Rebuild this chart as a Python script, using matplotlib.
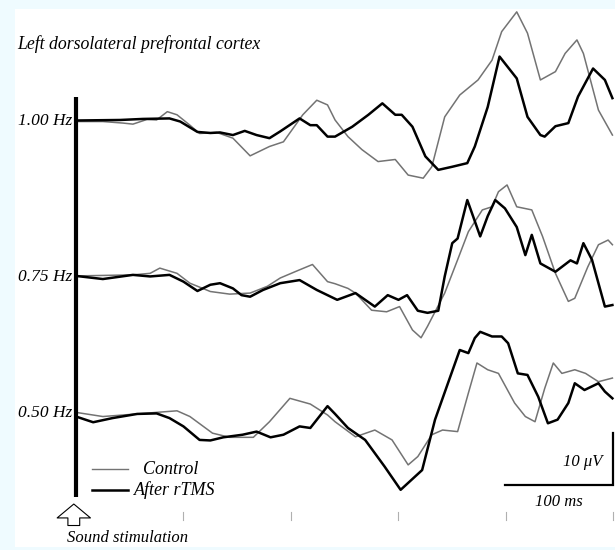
#ERP traces, left DLPFC, control vs after rTMS

import matplotlib
matplotlib.use('Agg')
import matplotlib.pyplot as plt
import matplotlib as mpl


OUT_PATH = 'out.png'

mpl.rcParams.update({
    'font.family': 'Liberation Serif',
    'font.style': 'italic',
    'font.size': 12.5,
    'lines.solid_joinstyle': 'round',
})

ROWS = ['1.00 Hz', '0.75 Hz', '0.50 Hz']
ROW_OFFSET = [56.15, 26.15, 0.0]   # uV, where each trace pair sits

#time in ms after sound onset, amplitude in uV
T_100_AFTER = [0, 41, 62, 87, 97, 113, 125, 134, 146, 157, 168, 180, 190, 208, 218, 224,
               234, 241, 257, 272, 285, 297, 303, 313, 325, 337, 350, 364, 371, 383, 394,
               410, 420, 432, 436, 446, 458, 467, 481, 492, 499]
V_100_AFTER = [0.1, 0.2, 0.4, 0.5, -0.1, -2.1, -2.3, -2.2, -2.7, -1.9, -2.7, -3.3, -2.0, 0.5,
               -0.8, -0.8, -3.0, -3.0, -1.1, 1.2, 3.4, 1.2, 1.2, -1.1, -6.8, -9.4, -8.8, -8.1,
               -4.9, 2.7, 12.4, 8.2, 0.8, -2.7, -3.0, -1.0, -0.4, 4.7, 10.1, 7.9, 4.4]
T_100_CTRL = [0, 25, 44, 53, 66, 75, 85, 94, 106, 115, 131, 146, 162, 180, 193, 211, 224,
              234, 241, 253, 266, 281, 297, 309, 323, 331, 343, 357, 374, 387, 396, 410,
              420, 432, 446, 455, 466, 472, 486, 499]
V_100_CTRL = [-0.1, -0.1, -0.4, -0.6, 0.3, 0.2, 1.8, 1.2, -0.8, -2.4, -2.2, -3.3, -6.7, -4.9,
              -4.0, 1.2, 4.0, 3.1, 0.2, -3.0, -5.5, -7.8, -7.4, -10.4, -11.0, -8.8, 0.8, 5.0,
              7.9, 11.7, 17.2, 21.0, 16.9, 7.9, 9.5, 13.0, 15.6, 13.0, 2.1, -2.7]

T_075_AFTER = [0, 25, 53, 69, 87, 100, 113, 125, 134, 146, 154, 162, 174, 190, 208, 224,
               243, 260, 278, 290, 300, 308, 318, 327, 337, 343, 350, 355, 364, 369, 376,
               383, 390, 399, 410, 418, 424, 432, 446, 460, 466, 472, 480, 492, 499]
V_075_AFTER = [0.2, -0.4, 0.4, 0.1, 0.4, -0.9, -2.7, -1.5, -1.2, -2.2, -3.5, -3.8, -2.5, -1.2,
               -0.6, -2.5, -4.4, -3.1, -5.7, -3.5, -4.4, -3.5, -6.5, -6.9, -6.5, 0.1, 6.5, 7.4,
               14.8, 11.9, 7.8, 11.7, 14.8, 13.2, 9.6, 4.2, 8.1, 2.6, 1.0, 3.2, 2.6, 6.5, 3.3,
               -5.7, -5.4]
T_075_CTRL = [0, 53, 69, 78, 94, 106, 125, 143, 162, 178, 190, 206, 220, 234, 241, 253, 260,
              275, 289, 301, 313, 321, 327, 343, 355, 365, 378, 387, 393, 401, 410, 424, 434,
              446, 458, 464, 476, 486, 495, 499]
V_075_CTRL = [0.2, 0.4, 0.7, 1.7, 0.7, -1.2, -2.8, -3.3, -3.1, -1.8, -0.2, 1.2, 2.4, -0.9,
              -1.3, -2.2, -3.1, -6.4, -6.7, -5.7, -10.2, -11.7, -9.5, -3.1, 3.3, 8.7, 12.9,
              13.5, 16.4, 17.7, 13.5, 12.9, 7.8, 0.7, -4.7, -4.1, 1.9, 6.2, 7.1, 6.2]

T_050_AFTER = [0, 16, 34, 57, 75, 87, 100, 115, 125, 137, 155, 168, 181, 193, 208, 218, 234,
               241, 253, 269, 287, 302, 322, 334, 346, 357, 365, 371, 376, 387, 396, 402,
               411, 420, 430, 439, 448, 458, 464, 473, 486, 492, 499]
V_050_AFTER = [-0.7, -1.8, -1.0, -0.2, -0.1, -1.0, -2.6, -5.2, -5.3, -4.7, -4.2, -3.6, -4.7,
               -4.2, -2.6, -2.9, 1.3, -0.2, -2.9, -5.2, -10.3, -14.8, -11.0, -1.3, 5.7, 12.1,
               11.5, 14.4, 15.6, 14.7, 14.7, 13.4, 7.6, 7.3, 3.1, -2.0, -1.3, 1.9, 5.7, 4.4,
               5.7, 4.1, 2.8]
T_050_CTRL = [0, 25, 57, 75, 94, 106, 127, 143, 165, 180, 199, 218, 234, 241, 260, 278, 294,
              309, 318, 331, 341, 355, 365, 373, 383, 393, 408, 418, 427, 436, 444, 452, 464,
              474, 486, 499]
V_050_CTRL = [0.1, -0.7, -0.2, 0.1, 0.4, -0.7, -3.9, -4.7, -4.7, -1.7, 2.8, 1.7, -0.4, -1.7,
              -4.6, -3.3, -5.2, -10.0, -8.4, -4.2, -3.3, -3.6, 3.8, 9.6, 8.3, 7.6, 1.9, -0.7,
              -1.7, 4.7, 9.6, 7.6, 8.3, 7.6, 6.0, 6.7]

TRACES = [
    ((T_100_CTRL, V_100_CTRL), (T_100_AFTER, V_100_AFTER)),
    ((T_075_CTRL, V_075_CTRL), (T_075_AFTER, V_075_AFTER)),
    ((T_050_CTRL, V_050_CTRL), (T_050_AFTER, V_050_AFTER)),
]

TICKS_MS = [100, 200, 300, 400, 500]

BG = '#effbff'
GREY = '#737373'


def main():
    fig = plt.figure(figsize=(6.15, 5.5), dpi=100, facecolor=BG)
    # white panel, data scale: 1.075 px per ms, 5.2 px per uV
    ax = fig.add_axes([15 / 615, 3 / 550, 600 / 615, 538 / 550])
    ax.set_facecolor('white')
    ax.set_xlim(-56.7, 501.4)
    ax.set_ylim(-25.8, 77.7)
    ax.axis('off')
    ax.add_patch(plt.Rectangle((0, 0), 1, 1, transform=ax.transAxes,
                               facecolor='white', edgecolor='none', zorder=0))

    for label, off, ((tc, vc), (ta, va)) in zip(ROWS, ROW_OFFSET, TRACES):
        ax.plot(tc, [v + off for v in vc], color=GREY, lw=1.1, zorder=2)
        ax.plot(ta, [v + off for v in va], color='black', lw=1.8, zorder=3)
        ax.text(-3, off, label, ha='right', va='center', fontsize=12.5)

    # stimulus marker bar
    ax.plot([0, 0], [-16.2, 60.8], color='black', lw=3.0, solid_capstyle='butt')

    for t in TICKS_MS:
        ax.plot([t, t], [-19.0, -20.6], color='#b0b0b0', lw=0.8)

    ax.annotate('', xy=(-2, -17.0), xytext=(-2, -22.2),
                arrowprops=dict(arrowstyle='simple,head_width=2.4,head_length=1.0,tail_width=0.85',
                                fc='white', ec='black', lw=0.8, mutation_scale=10))
    ax.text(-8, -24.0, 'Sound stimulation', ha='left', va='center', fontsize=12)

    ax.text(-55, 71.0, 'Left dorsolateral prefrontal cortex', ha='left', va='center',
            fontsize=12.8)

    # legend
    ax.plot([15, 48], [-10.8, -10.8], color=GREY, lw=1.0)
    ax.plot([15, 48], [-14.8, -14.8], color='black', lw=1.8)
    ax.text(62, -10.8, 'Control', ha='left', va='center', fontsize=13)
    ax.text(54, -14.8, 'After rTMS', ha='left', va='center', fontsize=13)

    # scale bar: 100 ms x 10 uV
    x_end, y_bot = 499.5, -13.85
    ax.plot([x_end - 100, x_end, x_end], [y_bot, y_bot, y_bot + 10],
            color='black', lw=1.6, solid_joinstyle='miter')
    ax.text(x_end - 10, y_bot + 4.4, '10 μV', ha='right', va='center', fontsize=12)
    ax.text(x_end - 50, y_bot - 3.3, '100 ms', ha='center', va='center', fontsize=12)

    fig.savefig(OUT_PATH, dpi=100, facecolor=BG)
    plt.close(fig)


if __name__ == '__main__':
    main()
